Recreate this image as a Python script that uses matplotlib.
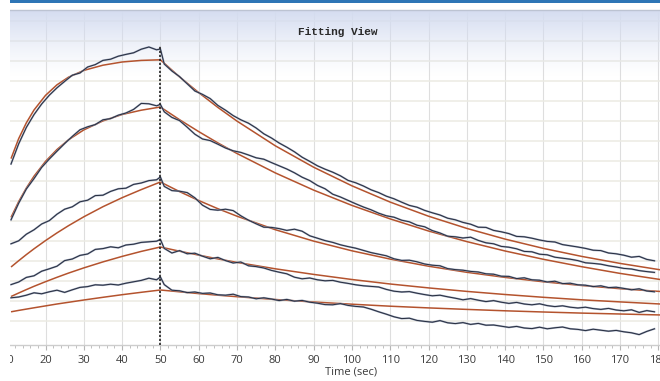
import numpy as np
import matplotlib
matplotlib.use("Agg")
import matplotlib.pyplot as plt
from matplotlib.patches import Rectangle
from matplotlib.ticker import MultipleLocator

# ---------------- data (response units vs time in s) ----------------
injection_end = 50

time_ticks = [10, 20, 30, 40, 50, 60, 70, 80, 90, 100, 110, 120, 130, 140, 150, 160, 170, 180]
grid_levels = [0, 10, 20, 30, 40, 50, 60, 70, 80, 90, 100, 110, 120, 130, 140, 150]

fit_assoc_time = [11, 13, 15, 17, 20, 23, 26, 30, 35, 40, 45, 50]
fit_dissoc_time = [50, 55, 60, 65, 70, 80, 90, 100, 110, 120, 130, 140, 150, 160, 170, 181]

fit1_assoc = [81.2, 91.2, 99.1, 105.5, 112.8, 118.1, 121.9, 125.3, 127.9, 129.5, 130.3, 130.6]
fit2_assoc = [51.8, 59.7, 66.5, 72.4, 79.8, 85.75, 90.6, 95.55, 100.05, 103.25, 105.4, 107.0]
fit3_assoc = [27.0, 30.15, 33.2, 36.1, 40.2, 44.05, 47.65, 52.1, 57.15, 61.65, 65.7, 69.5]
fit4_assoc = [12.25, 14.0, 15.7, 17.35, 19.65, 21.85, 23.95, 26.55, 29.55, 32.3, 34.8, 37.0]
fit5_assoc = [4.6, 5.3, 5.95, 6.6, 7.55, 8.5, 9.35, 10.5, 11.85, 13.15, 14.35, 15.5]

fit1_dissoc = [130.6, 122.05, 114.2, 106.8, 99.95, 87.6, 76.9, 67.6, 59.45, 52.4, 46.3, 40.95, 36.3, 32.3, 28.8, 25.45]
fit2_dissoc = [107.0, 100.65, 94.7, 89.05, 83.75, 74.05, 65.45, 57.8, 51.05, 45.0, 39.7, 35.0, 30.85, 27.15, 23.8, 20.6]
fit3_dissoc = [69.5, 64.7, 60.25, 56.15, 52.4, 45.65, 39.95, 35.1, 30.95, 27.4, 24.35, 21.8, 19.6, 17.75, 16.15, 14.7]
fit4_dissoc = [37.0, 34.9, 32.95, 31.05, 29.3, 26.1, 23.3, 20.75, 18.5, 16.55, 14.8, 13.25, 11.85, 10.6, 9.55, 8.45]
fit5_dissoc = [15.5, 14.6, 13.7, 12.9, 12.15, 10.75, 9.5, 8.4, 7.4, 6.55, 5.8, 5.1, 4.5, 3.95, 3.5, 3.0]

data_time = [11, 13, 15, 17, 19, 21, 23, 25, 27, 29, 31, 33, 35, 37, 39, 41, 43, 45, 47, 49, 50,
             51, 53, 55, 57, 59, 61, 63, 65, 67, 69, 71, 73, 75, 77, 79, 81, 83, 85, 87, 89,
             91, 93, 95, 97, 99, 101, 103, 105, 107, 109, 111, 113, 115, 117, 119, 121, 123, 125,
             127, 129, 131, 133, 135, 137, 139, 141, 143, 145, 147, 149, 151, 153, 155, 157, 159,
             161, 163, 165, 167, 169, 171, 173, 175, 177, 179]

data1 = [78.5, 88.6, 96.8, 103.2, 108.5, 112.9, 116.6, 119.8, 122.9, 124.0, 127.0, 128.2, 130.3, 130.9,
         132.4, 133.3, 134.1, 135.9, 137.0, 135.6, 136.0,
         128.5, 125.0, 122.2, 118.6, 115.0, 113.3, 111.2, 107.8, 105.4, 102.7, 100.6, 98.9, 96.5, 93.6,
         91.5, 89.0, 86.9, 84.6, 81.9, 79.8, 77.6, 75.9, 74.4, 72.6, 70.3, 69.1, 67.5, 65.6, 64.2, 62.4,
         61.1, 59.4, 57.8, 56.9, 55.3, 54.1, 53.0, 51.4, 50.6, 49.3, 48.4, 46.9, 46.8, 45.3, 44.6, 43.7,
         42.3, 42.1, 41.4, 40.5, 39.8, 39.5, 38.2, 37.6, 37.0, 36.3, 35.4, 35.2, 34.0, 33.6, 32.9, 31.9,
         32.3, 30.8, 30.1]
data2 = [50.6, 58.9, 66.0, 71.2, 76.8, 81.0, 84.9, 88.7, 92.3, 95.6, 97.1, 98.2, 100.6, 101.2, 102.9,
         104.0, 105.8, 108.8, 108.6, 107.6, 108.3,
         104.6, 101.8, 100.2, 96.9, 93.4, 91.0, 90.2, 88.4, 86.5, 85.1, 84.3, 83.0, 81.6, 80.9, 79.2,
         77.6, 76.0, 74.1, 71.9, 70.2, 67.8, 66.1, 63.4, 62.0, 60.3, 58.6, 57.0, 55.6, 53.9, 52.6, 51.9,
         50.4, 49.6, 47.9, 47.1, 45.2, 44.0, 42.4, 42.1, 41.5, 41.9, 40.3, 39.1, 38.6, 37.3, 36.9, 36.1,
         34.8, 34.6, 33.4, 33.1, 31.9, 31.4, 30.9, 30.2, 29.1, 28.8, 28.4, 27.6, 27.0, 26.3, 26.0, 25.2,
         24.7, 24.3]
data3 = [38.6, 40.1, 43.4, 45.6, 48.5, 50.2, 53.4, 55.9, 57.1, 59.6, 60.4, 62.7, 62.9, 64.8, 66.1, 66.4,
         68.3, 69.0, 70.2, 70.6, 72.0,
         67.3, 65.2, 64.9, 64.2, 61.6, 57.9, 55.8, 55.4, 55.9, 55.2, 52.6, 50.4, 48.6, 46.9, 46.8, 46.2,
         45.3, 45.9, 44.9, 42.6, 41.4, 40.2, 39.3, 38.1, 37.2, 36.4, 35.3, 34.2, 33.4, 32.6, 31.1, 30.3,
         30.4, 29.6, 28.5, 27.9, 27.6, 26.2, 25.7, 25.4, 24.8, 24.5, 23.6, 23.4, 22.4, 22.3, 21.2, 21.6,
         20.6, 20.4, 19.5, 19.9, 18.7, 18.9, 18.1, 17.9, 17.2, 17.6, 16.7, 16.9, 16.3, 15.6, 16.1, 15.0,
         14.6]
data4 = [18.2, 19.5, 21.8, 22.6, 24.9, 26.1, 27.4, 30.2, 31.0, 32.8, 33.5, 35.8, 36.2, 37.1, 36.6, 38.0,
         38.4, 39.3, 39.6, 39.9, 40.8,
         36.3, 34.0, 35.2, 33.6, 33.9, 32.4, 31.1, 31.8, 30.2, 29.0, 29.5, 27.6, 27.2, 26.5, 25.3, 24.4,
         23.6, 21.9, 21.1, 21.5, 20.6, 20.1, 20.3, 19.4, 18.8, 18.1, 17.6, 17.3, 17.0, 15.8, 14.9, 14.5,
         14.7, 13.9, 13.2, 12.6, 12.9, 12.1, 11.4, 10.6, 11.2, 10.4, 9.7, 10.2, 9.4, 8.8, 9.3, 8.5, 8.1,
         8.6, 7.7, 7.2, 7.6, 6.9, 6.5, 6.9, 6.2, 5.8, 6.3, 5.5, 5.1, 5.6, 4.3, 5.2, 4.6]
data5 = [11.6, 12.0, 12.9, 14.1, 13.6, 14.6, 15.4, 14.3, 15.6, 16.8, 17.2, 18.1, 17.9, 18.4, 18.0, 18.9,
         19.6, 20.3, 21.4, 20.6, 22.0,
         18.2, 15.4, 15.1, 14.2, 14.5, 13.8, 14.0, 13.1, 12.9, 13.4, 12.2, 12.0, 11.1, 11.6, 11.0, 10.2,
         10.8, 9.9, 10.3, 9.4, 8.9, 8.2, 8.1, 8.7, 7.8, 7.3, 7.0, 5.9, 4.6, 3.4, 2.1, 1.2, 1.4, 0.3, -0.2,
         -0.6, 0.2, -0.9, -1.3, -0.8, -1.7, -1.2, -2.1, -2.0, -2.6, -3.2, -2.7, -3.5, -3.8, -3.1, -3.9,
         -3.4, -3.0, -3.9, -4.2, -4.8, -4.1, -4.6, -5.1, -4.7, -5.4, -5.9, -6.8, -5.2, -3.9]

data_series = [data1, data2, data3, data4, data5]
fit_assoc_series = [fit1_assoc, fit2_assoc, fit3_assoc, fit4_assoc, fit5_assoc]
fit_dissoc_series = [fit1_dissoc, fit2_dissoc, fit3_dissoc, fit4_dissoc, fit5_dissoc]

# ---------------- figure ----------------
W, H = 660, 381
fig = plt.figure(figsize=(W / 100, H / 100), dpi=100, facecolor="white")
ax = fig.add_axes([0 / W, (H - 345) / H, 660 / W, 335 / H])
ax.set_facecolor("white")

# background gradient at top of plot area
ncol = 256
rgba = np.zeros((ncol, 1, 4))
rgba[..., 0] = 0.835
rgba[..., 1] = 0.865
rgba[..., 2] = 0.945
rgba[:, 0, 3] = np.linspace(0, 1, ncol) ** 1.3
ax.imshow(rgba, extent=(0, 1, 0.80, 1), transform=ax.transAxes, origin="lower",
          aspect="auto", zorder=1.5, interpolation="bilinear")

fit_color = "#b4532e"
for fa, fd in zip(fit_assoc_series, fit_dissoc_series):
    ax.plot(fit_assoc_time, fa, color=fit_color, lw=1.1, zorder=2.5, solid_capstyle="butt")
    ax.plot(fit_dissoc_time, fd, color=fit_color, lw=1.1, zorder=2.5, solid_capstyle="butt")

for d in data_series:
    ax.plot(data_time, d, color="#8f99b0", lw=1.35, alpha=0.85, zorder=3, solid_joinstyle="round")
    ax.plot(data_time, d, color="#252c3e", lw=0.7, zorder=3.5, solid_joinstyle="round")

ax.axvline(injection_end, ymin=0, ymax=0.895, color="#222222", lw=1.2,
           linestyle=(0, (1.3, 1.1)), zorder=5)

ax.set_xlim(50 - 160.4 / 3.83, 50 + 499.6 / 3.83)
ax.set_ylim(-12, 155.5)

ax.set_xticks(time_ticks)
ax.set_xticklabels([str(t) for t in time_ticks])
ax.xaxis.set_minor_locator(MultipleLocator(2))
ax.set_yticks(grid_levels)
ax.set_yticklabels([])
ax.tick_params(axis="y", length=0)
ax.tick_params(axis="x", which="major", direction="out", length=3.5, width=0.8,
               color="#b5b5b5", pad=3.5, labelsize=8, labelcolor="#3a3a3a")
ax.tick_params(axis="x", which="minor", direction="out", length=2.5, width=0.7, color="#c0c0c0")
for lab in ax.get_xticklabels():
    lab.set_fontfamily("Open Sans")

ax.set_axisbelow(True)
ax.grid(axis="x", which="major", color="#dedede", lw=0.8)
ax.grid(axis="y", which="major", color="#ecebe3", lw=1.1)

for s in ["left", "right"]:
    ax.spines[s].set_visible(False)
ax.spines["bottom"].set_color("#cdcdcd")
ax.spines["bottom"].set_linewidth(1.0)
ax.spines["top"].set_color("#bcc3d2")
ax.spines["top"].set_linewidth(1.0)

# white margin on the left and blue bar on top
fig.patches.append(Rectangle((0, 0), 10 / W, 1, transform=fig.transFigure,
                             facecolor="white", edgecolor="none", zorder=10))
fig.patches.append(Rectangle((10 / W, 1 - 3 / H), 650 / W, 3 / H, transform=fig.transFigure,
                             facecolor="#2e75b6", edgecolor="none", zorder=11))

fig.text(338 / W, 1 - 32 / H, "Fitting View", family="Liberation Mono", fontsize=8,
         fontweight="bold", color="#2a2a2a", ha="center", va="center")
fig.text(351 / W, 1 - 372 / H, "Time (sec)", family="Open Sans", fontsize=8,
         color="#3a3a3a", ha="center", va="center")

fig.savefig("out.png", dpi=100, facecolor="white")
